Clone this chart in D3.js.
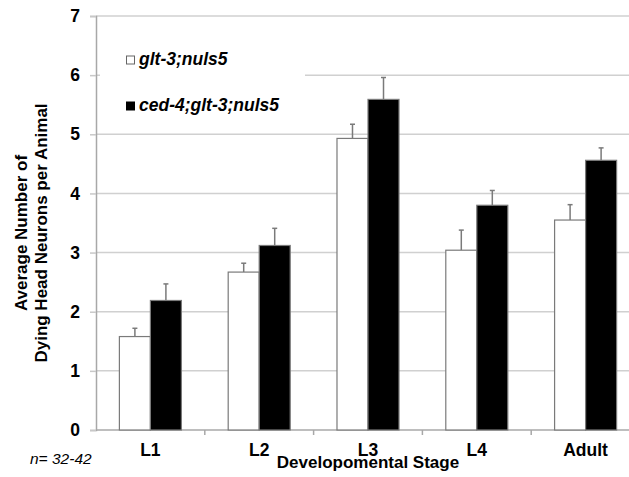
<!DOCTYPE html>
<html><head><meta charset="utf-8">
<script src="https://cdn.jsdelivr.net/npm/d3@7"></script>
<style>body{margin:0;background:#fff}svg{display:block;font-family:Arial,"Liberation Sans",sans-serif}</style>
</head><body><svg id="c" width="629" height="477"></svg>
<script>
const categories = ["L1","L2","L3","L4","Adult"];
const seriesNames = ["glt-3;nuls5","ced-4;glt-3;nuls5"];
const whiteValues = [1.58, 2.67, 4.93, 3.04, 3.55];
const blackValues = [2.19, 3.12, 5.59, 3.80, 4.56];
const whiteErrors = [0.14, 0.15, 0.24, 0.34, 0.26];
const blackErrors = [0.28, 0.29, 0.37, 0.25, 0.21];
const yTicks = [0,1,2,3,4,5,6,7];

(function(){
const svg = d3.select("#c");
const pL = 96, pR = 640, pT = 16, pB = 430;
const x = d3.scaleBand().domain(categories).range([pL, pR]).paddingInner(0.43).paddingOuter(0.215);
const xs = d3.scaleBand().domain([0,1]).range([0, x.bandwidth()]);
const y = d3.scaleLinear().domain([0,7]).range([pB, pT]);

// gridlines
svg.append("g").selectAll("line").data(yTicks.filter(d=>d>0)).join("line")
  .attr("x1", pL).attr("x2", 629).attr("y1", d=>y(d)).attr("y2", d=>y(d))
  .attr("stroke", "#d0d0d0").attr("stroke-width", 1.5);

// y axis
const ya = svg.append("g").attr("transform", `translate(${pL},0)`)
  .call(d3.axisLeft(y).tickValues(yTicks).tickFormat(d3.format("d")).tickSize(6).tickPadding(10));
ya.select(".domain").attr("stroke", "#a8a8a8").attr("stroke-width", 1.5);
ya.selectAll(".tick line").attr("stroke", "#c8c8c8").attr("stroke-width", 1.5);
ya.selectAll(".tick text").attr("font-size", 17.5).attr("font-weight", "bold").attr("fill", "#000")
  .attr("font-family", "Arial, 'Liberation Sans', sans-serif");

// x axis baseline and boundary ticks
svg.append("line").attr("x1", pL).attr("x2", 629).attr("y1", pB).attr("y2", pB)
  .attr("stroke", "#a8a8a8").attr("stroke-width", 1.5);
const bounds = categories.map(c => x(c) - x.step()*x.paddingInner()/2);
svg.append("g").selectAll("line").data(bounds.slice(1)).join("line")
  .attr("x1", d=>d).attr("x2", d=>d).attr("y1", pB).attr("y2", pB+5)
  .attr("stroke", "#a8a8a8").attr("stroke-width", 1.5);
svg.append("g").selectAll("text").data(categories).join("text")
  .attr("x", d => x(d) + x.bandwidth()/2).attr("y", 456).attr("text-anchor", "middle")
  .attr("font-size", 17.5).attr("font-weight", "bold").text(d=>d);

// legend background
svg.append("rect").attr("x", 100).attr("y", 40).attr("width", 205).attr("height", 85).attr("fill", "#fff");

// bars
const data = categories.map((c,i)=>[
  {c, s:0, v:whiteValues[i], e:whiteErrors[i]},
  {c, s:1, v:blackValues[i], e:blackErrors[i]}
]).flat();
const fills = ["#ffffff", "#000000"];
const cx = d => x(d.c)+xs(d.s)+xs.bandwidth()/2;
svg.append("g").selectAll("line").data(data).join("line")
  .attr("x1", cx).attr("x2", cx)
  .attr("y1", d=>y(d.v)).attr("y2", d=>y(d.v+d.e)).attr("stroke", "#7a7a7a").attr("stroke-width", 1.5);
svg.append("g").selectAll("line").data(data).join("line")
  .attr("x1", d=>cx(d)-2.5).attr("x2", d=>cx(d)+2.5)
  .attr("y1", d=>y(d.v+d.e)).attr("y2", d=>y(d.v+d.e)).attr("stroke", "#7a7a7a").attr("stroke-width", 1.5);
svg.append("g").selectAll("rect").data(data).join("rect")
  .attr("x", d=>x(d.c)+xs(d.s)).attr("width", xs.bandwidth())
  .attr("y", d=>y(d.v)).attr("height", d=>y(0)-y(d.v))
  .attr("fill", d=>fills[d.s]).attr("stroke", "#7a7a7a").attr("stroke-width", 1.2);

// legend
const lg = svg.append("g");
seriesNames.forEach((n,i)=>{
  const yy = 56 + i*46;
  lg.append("rect").attr("x", 126.5).attr("y", yy).attr("width", 8).attr("height", 8)
    .attr("fill", fills[i]).attr("stroke", i ? "#000" : "#666").attr("stroke-width", 1);
  lg.append("text").attr("x", 139).attr("y", yy+8.5).attr("font-size", 17.5).attr("font-weight", "bold")
    .attr("font-style", "italic").text(n);
});

// axis titles
const yt = svg.append("text").attr("transform", "translate(27,233) rotate(-90)")
  .attr("text-anchor", "middle").attr("font-size", 17).attr("font-weight", "bold");
yt.append("tspan").attr("x", 0).attr("dy", 0).text("Average Number of");
yt.append("tspan").attr("x", 0).attr("dy", 20).text("Dying Head Neurons per Animal");
svg.append("text").attr("x", 368).attr("y", 468).attr("text-anchor", "middle")
  .attr("font-size", 17).attr("font-weight", "bold").text("Developomental Stage");
svg.append("text").attr("x", 30).attr("y", 463.5).attr("font-size", 15.5).attr("font-style", "italic").text("n= 32-42");
})();
</script></body></html>
